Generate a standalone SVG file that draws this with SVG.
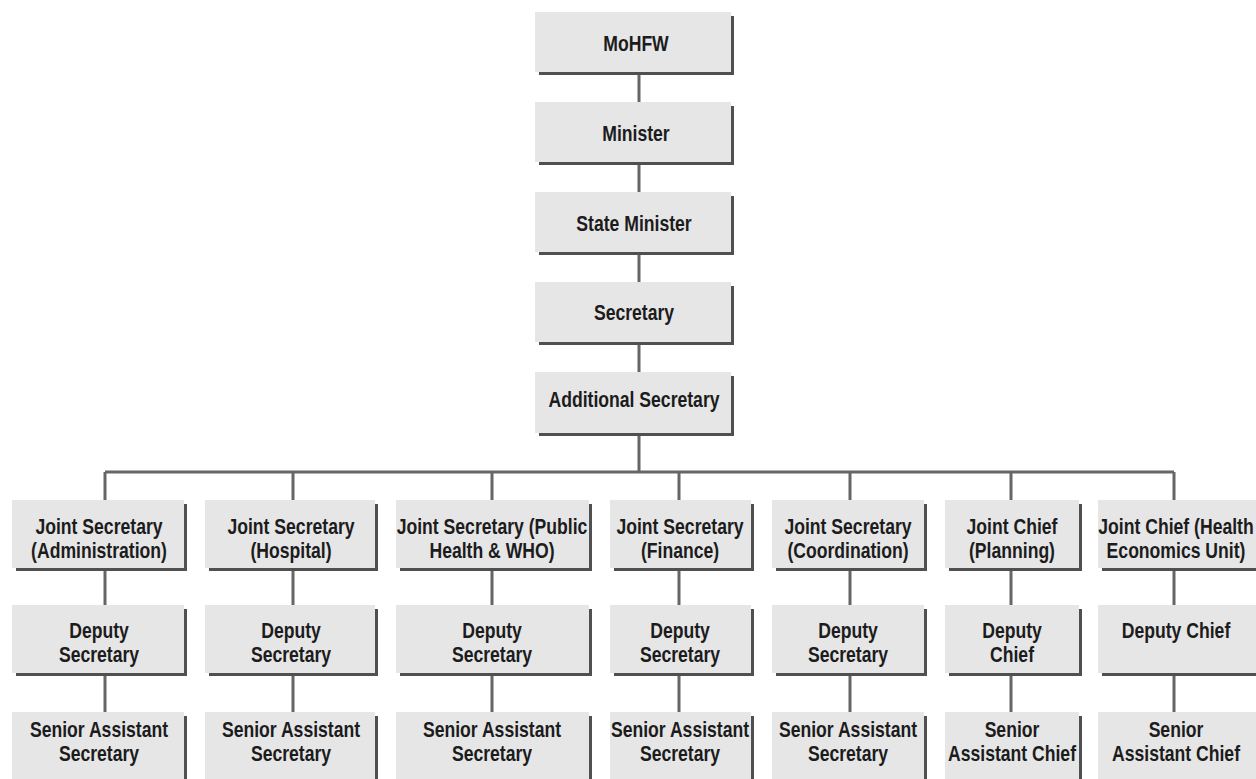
<svg xmlns="http://www.w3.org/2000/svg" width="1256" height="779" viewBox="0 0 1256 779">
<style>
.box{fill:#e6e6e7}
.sh{fill:none;stroke:#505050;stroke-width:3}
.con{fill:none;stroke:#666;stroke-width:3}
text{font-family:"Liberation Sans",Arial,sans-serif;font-weight:bold;font-size:22px;fill:#1c1c1c;text-anchor:middle}
</style>
<rect width="1256" height="779" fill="#fff"/>
<g id="connectors">
<path class="con" d="M639 73V102M639 163V192M639 253V282M639 343V372M639 434V472M105 472H1174"/>
<path class="con" d="M105 472V500M293 472V500M492 472V500M679 472V500M850 472V500M1011 472V500M1174 472V500"/>
<path class="con" d="M105 570V605M293 570V605M492 570V605M679 570V605M850 570V605M1011 570V605M1174 570V605"/>
<path class="con" d="M105 675V712M293 675V712M492 675V712M679 675V712M850 675V712M1011 675V712M1174 675V712"/>
</g>
<g id="mohfw"><rect class="box" x="535" y="12" width="196" height="60"/><path class="sh" d="M539 73.5H732.5V16"/><text transform="matrix(0.8 0 0 1 636 0)" y="51">MoHFW</text></g>
<g id="minister"><rect class="box" x="535" y="102" width="196" height="60"/><path class="sh" d="M539 163.5H732.5V106"/><text transform="matrix(0.8 0 0 1 636 0)" y="141">Minister</text></g>
<g id="state-minister"><rect class="box" x="535" y="192" width="196" height="60"/><path class="sh" d="M539 253.5H732.5V196"/><text transform="matrix(0.8 0 0 1 634 0)" y="231">State Minister</text></g>
<g id="secretary"><rect class="box" x="535" y="282" width="196" height="60"/><path class="sh" d="M539 343.5H732.5V286"/><text transform="matrix(0.8 0 0 1 634 0)" y="320">Secretary</text></g>
<g id="additional-secretary"><rect class="box" x="535" y="372" width="196" height="61"/><path class="sh" d="M539 434.5H732.5V376"/><text transform="matrix(0.8 0 0 1 634 0)" y="407">Additional Secretary</text></g>

<g id="js-admin"><rect class="box" x="12" y="500" width="172" height="68"/><path class="sh" d="M16 569.5H185.5V504"/><text transform="matrix(0.8 0 0 1 99 0)" y="534">Joint Secretary</text><text transform="matrix(0.8 0 0 1 99 0)" y="558">(Administration)</text></g>
<g id="js-hospital"><rect class="box" x="205" y="500" width="170" height="68"/><path class="sh" d="M209 569.5H376.5V504"/><text transform="matrix(0.8 0 0 1 291 0)" y="534">Joint Secretary</text><text transform="matrix(0.8 0 0 1 291 0)" y="558">(Hospital)</text></g>
<g id="js-public-health"><rect class="box" x="396" y="500" width="193" height="68"/><path class="sh" d="M400 569.5H590.5V504"/><text transform="matrix(0.8 0 0 1 492 0)" y="534">Joint Secretary (Public</text><text transform="matrix(0.8 0 0 1 492 0)" y="558">Health &amp; WHO)</text></g>
<g id="js-finance"><rect class="box" x="610" y="500" width="141" height="68"/><path class="sh" d="M614 569.5H752.5V504"/><text transform="matrix(0.8 0 0 1 680 0)" y="534">Joint Secretary</text><text transform="matrix(0.8 0 0 1 680 0)" y="558">(Finance)</text></g>
<g id="js-coordination"><rect class="box" x="772" y="500" width="152" height="68"/><path class="sh" d="M776 569.5H925.5V504"/><text transform="matrix(0.8 0 0 1 848 0)" y="534">Joint Secretary</text><text transform="matrix(0.8 0 0 1 848 0)" y="558">(Coordination)</text></g>
<g id="jc-planning"><rect class="box" x="945" y="500" width="134" height="68"/><path class="sh" d="M949 569.5H1080.5V504"/><text transform="matrix(0.8 0 0 1 1012 0)" y="534">Joint Chief</text><text transform="matrix(0.8 0 0 1 1012 0)" y="558">(Planning)</text></g>
<g id="jc-health-economics"><rect class="box" x="1098" y="500" width="160" height="68"/><path class="sh" d="M1102 569.5H1259.5"/><text transform="matrix(0.8 0 0 1 1176 0)" y="534">Joint Chief (Health</text><text transform="matrix(0.8 0 0 1 1176 0)" y="558">Economics Unit)</text></g>

<g id="ds-admin"><rect class="box" x="12" y="605" width="172" height="68"/><path class="sh" d="M16 674.5H185.5V609"/><text transform="matrix(0.8 0 0 1 99 0)" y="638">Deputy</text><text transform="matrix(0.8 0 0 1 99 0)" y="662">Secretary</text></g>
<g id="ds-hospital"><rect class="box" x="205" y="605" width="170" height="68"/><path class="sh" d="M209 674.5H376.5V609"/><text transform="matrix(0.8 0 0 1 291 0)" y="638">Deputy</text><text transform="matrix(0.8 0 0 1 291 0)" y="662">Secretary</text></g>
<g id="ds-public-health"><rect class="box" x="396" y="605" width="193" height="68"/><path class="sh" d="M400 674.5H590.5V609"/><text transform="matrix(0.8 0 0 1 492 0)" y="638">Deputy</text><text transform="matrix(0.8 0 0 1 492 0)" y="662">Secretary</text></g>
<g id="ds-finance"><rect class="box" x="610" y="605" width="141" height="68"/><path class="sh" d="M614 674.5H752.5V609"/><text transform="matrix(0.8 0 0 1 680 0)" y="638">Deputy</text><text transform="matrix(0.8 0 0 1 680 0)" y="662">Secretary</text></g>
<g id="ds-coordination"><rect class="box" x="772" y="605" width="152" height="68"/><path class="sh" d="M776 674.5H925.5V609"/><text transform="matrix(0.8 0 0 1 848 0)" y="638">Deputy</text><text transform="matrix(0.8 0 0 1 848 0)" y="662">Secretary</text></g>
<g id="dc-planning"><rect class="box" x="945" y="605" width="134" height="68"/><path class="sh" d="M949 674.5H1080.5V609"/><text transform="matrix(0.8 0 0 1 1012 0)" y="638">Deputy</text><text transform="matrix(0.8 0 0 1 1012 0)" y="662">Chief</text></g>
<g id="dc-health-economics"><rect class="box" x="1098" y="605" width="160" height="68"/><path class="sh" d="M1102 674.5H1259.5"/><text transform="matrix(0.8 0 0 1 1176 0)" y="638">Deputy Chief</text></g>

<g id="sas-admin"><rect class="box" x="12" y="712" width="172" height="70"/><path class="sh" d="M185.5 716V782"/><text transform="matrix(0.8 0 0 1 99 0)" y="737">Senior Assistant</text><text transform="matrix(0.8 0 0 1 99 0)" y="761">Secretary</text></g>
<g id="sas-hospital"><rect class="box" x="205" y="712" width="170" height="70"/><path class="sh" d="M376.5 716V782"/><text transform="matrix(0.8 0 0 1 291 0)" y="737">Senior Assistant</text><text transform="matrix(0.8 0 0 1 291 0)" y="761">Secretary</text></g>
<g id="sas-public-health"><rect class="box" x="396" y="712" width="193" height="70"/><path class="sh" d="M590.5 716V782"/><text transform="matrix(0.8 0 0 1 492 0)" y="737">Senior Assistant</text><text transform="matrix(0.8 0 0 1 492 0)" y="761">Secretary</text></g>
<g id="sas-finance"><rect class="box" x="610" y="712" width="141" height="70"/><path class="sh" d="M752.5 716V782"/><text transform="matrix(0.8 0 0 1 680 0)" y="737">Senior Assistant</text><text transform="matrix(0.8 0 0 1 680 0)" y="761">Secretary</text></g>
<g id="sas-coordination"><rect class="box" x="772" y="712" width="152" height="70"/><path class="sh" d="M925.5 716V782"/><text transform="matrix(0.8 0 0 1 848 0)" y="737">Senior Assistant</text><text transform="matrix(0.8 0 0 1 848 0)" y="761">Secretary</text></g>
<g id="sac-planning"><rect class="box" x="945" y="712" width="134" height="70"/><path class="sh" d="M1080.5 716V782"/><text transform="matrix(0.8 0 0 1 1012 0)" y="737">Senior</text><text transform="matrix(0.8 0 0 1 1012 0)" y="761">Assistant Chief</text></g>
<g id="sac-health-economics"><rect class="box" x="1098" y="712" width="160" height="70"/><text transform="matrix(0.8 0 0 1 1176 0)" y="737">Senior</text><text transform="matrix(0.8 0 0 1 1176 0)" y="761">Assistant Chief</text></g>
</svg>
